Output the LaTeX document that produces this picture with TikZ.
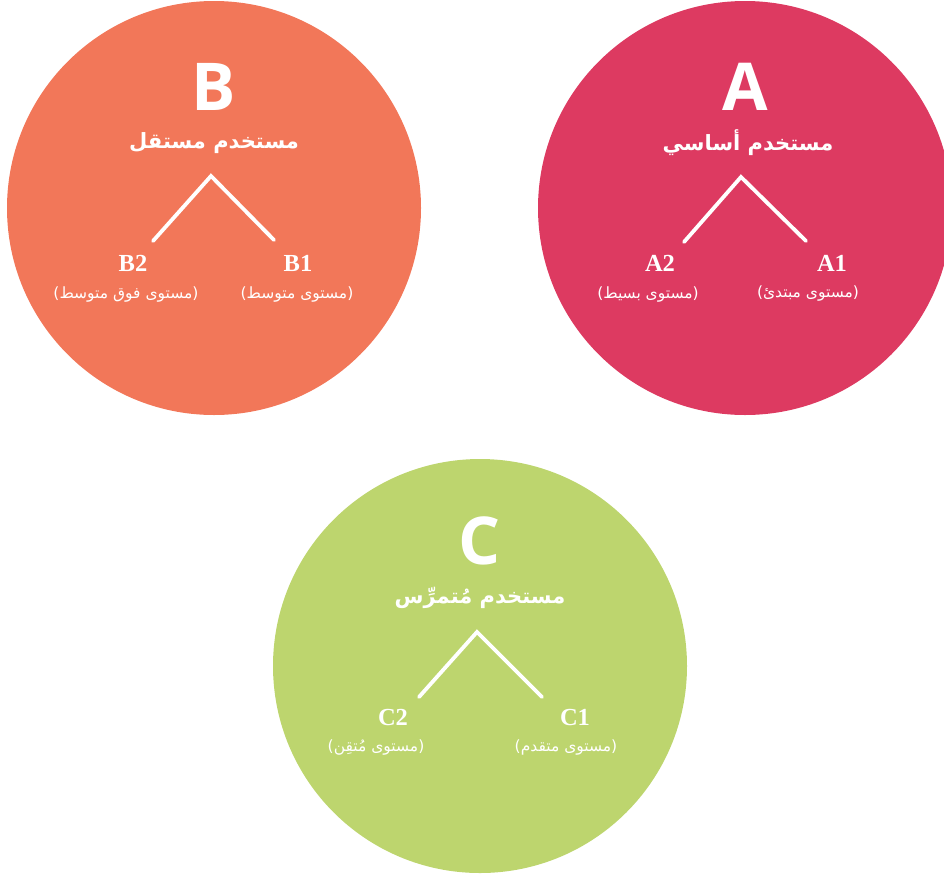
\documentclass[tikz,border=0pt]{standalone}
\usepackage{fontspec}
\setmainfont{Liberation Serif}
\newfontfamily\arabicfont[Script=Arabic]{DejaVu Sans}
\newfontfamily\bigfont{Open Sans}
\TeXXeTstate=1
\definecolor{colA}{RGB}{221,58,97}
\definecolor{colB}{RGB}{242,119,89}
\definecolor{colC}{RGB}{189,213,110}
\tikzset{
  bigletter/.style={text=white, font=\bigfont\bfseries\fontsize{66}{66}\selectfont, inner sep=0pt},
  grouptitle/.style={text=white, font=\arabicfont\bfseries\fontsize{21}{24}\selectfont, inner sep=0pt},
  levelcode/.style={text=white, font=\bfseries\fontsize{24.5}{26}\selectfont, inner sep=0pt},
  levelname/.style={text=white, font=\arabicfont\fontsize{15.5}{18}\selectfont, inner sep=0pt},
  branch/.style={draw=white, line width=3.8pt, line cap=round}
}
\begin{document}
\begin{tikzpicture}[x=1pt,y=-1pt]
\useasboundingbox (0,0) rectangle (944,873);
\clip (0,0) rectangle (944,873);
% discs
\coordinate (cB) at (214,208);
\coordinate (cA) at (745,208);
\coordinate (cC) at (480,666);
\fill[colB] (cB) circle[radius=207];
\fill[colA] (cA) circle[radius=207];
\fill[colC] (cC) circle[radius=207];
% B group
\node[bigletter] (letB) at (214,87) {B};
\node[grouptitle] (titB) at (214,143) {\beginR مستخدم مستقل\endR};
\coordinate (apB) at (211,176);
\coordinate (lB) at (153,241);
\coordinate (rB) at (274,240);
\draw[branch] (lB) -- (apB) -- (rB);
\node[levelcode] (B2) at (133,263) {B2};
\node[levelcode] (B1) at (298,263) {B1};
\node[levelname] (nB2) at (126,294) {\beginR(مستوى فوق متوسط)\endR};
\node[levelname] (nB1) at (297,294) {\beginR(مستوى متوسط)\endR};
% A group
\node[bigletter] (letA) at (745,87) {A};
\node[grouptitle] (titA) at (748,143) {\beginR مستخدم أساسي\endR};
\coordinate (apA) at (741,177);
\coordinate (lA) at (684,242);
\coordinate (rA) at (806,241);
\draw[branch] (lA) -- (apA) -- (rA);
\node[levelcode] (A2) at (660,263) {A2};
\node[levelcode] (A1) at (832,263) {A1};
\node[levelname] (nA2) at (648,294) {\beginR(مستوى بسيط)\endR};
\node[levelname] (nA1) at (808,294) {\beginR(مستوى مبتدئ)\endR};
% C group
\node[bigletter] (letC) at (480,541) {C};
\node[grouptitle] (titC) at (480,598) {\beginR مستخدم مُتمرِّس\endR};
\coordinate (apC) at (477,632);
\coordinate (lC) at (419,697);
\coordinate (rC) at (542,697);
\draw[branch] (lC) -- (apC) -- (rC);
\node[levelcode] (C2) at (393,717) {C2};
\node[levelcode] (C1) at (575,717) {C1};
\node[levelname] (nC2) at (376,747) {\beginR(مستوى مُتقِن)\endR};
\node[levelname] (nC1) at (566,747) {\beginR(مستوى متقدم)\endR};
\end{tikzpicture}
\end{document}
